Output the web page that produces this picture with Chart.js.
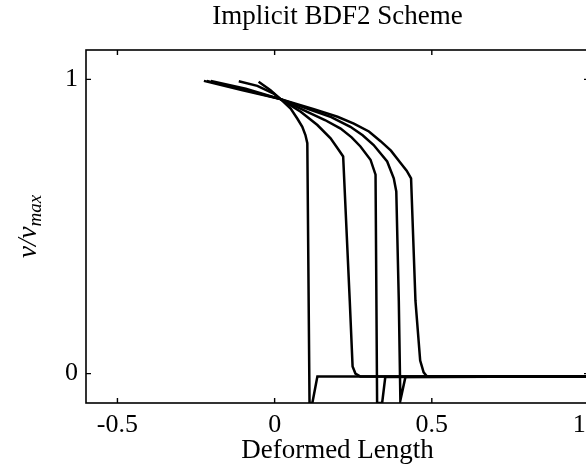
<!DOCTYPE html>
<html>
<head>
<meta charset="utf-8">
<script src="https://cdn.jsdelivr.net/npm/chart.js@4.4.1/dist/chart.umd.min.js"></script>
<style>
  html, body { margin: 0; padding: 0; background: #fff; overflow: hidden; }
  #wrap { width: 620px; height: 470px; }
</style>
</head>
<body>
<div id="wrap"><canvas id="chart" width="620" height="470"></canvas></div>
<script>
// --- Data ---
const X_TICKS = [-0.5, 0, 0.5, 1];
const Y_TICKS = [0, 1];

// five profiles, steepest first
const c1x = [-0.051, -0.013, 0.019, 0.051, 0.072, 0.088, 0.098, 0.104, 0.111, 0.120, 0.136, 1.0];
const c1y = [0.992, 0.963, 0.933, 0.901, 0.867, 0.839, 0.811, 0.783, -0.10, -0.10, -0.01, -0.01];

const c2x = [-0.114, -0.055, -0.003, 0.019, 0.083, 0.136, 0.178, 0.204, 0.218, 0.239, 0.248, 0.257, 0.273, 1.0];
const c2y = [0.994, 0.978, 0.952, 0.933, 0.890, 0.845, 0.800, 0.760, 0.738, 0.247, 0.024, 0.0, -0.01, -0.01];

const c3x = [-0.203, -0.092, 0.019, 0.104, 0.160, 0.210, 0.245, 0.273, 0.305, 0.321, 0.326, 0.342, 0.352, 1.0];
const c3y = [0.995, 0.968, 0.933, 0.890, 0.862, 0.833, 0.803, 0.772, 0.727, 0.676, -0.10, -0.10, -0.012, -0.01];

const c4x = [-0.216, -0.098, 0.019, 0.114, 0.180, 0.241, 0.280, 0.315, 0.358, 0.379, 0.387, 0.395, 0.400, 0.416, 1.0];
const c4y = [0.995, 0.966, 0.933, 0.897, 0.872, 0.839, 0.810, 0.777, 0.721, 0.664, 0.619, 0.247, -0.091, -0.012, -0.01];

const c5x = [-0.225, -0.105, 0.019, 0.125, 0.200, 0.252, 0.300, 0.337, 0.370, 0.400, 0.420, 0.434, 0.448, 0.463, 0.474, 0.485, 1.0];
const c5y = [0.995, 0.964, 0.933, 0.899, 0.873, 0.850, 0.823, 0.790, 0.758, 0.717, 0.690, 0.664, 0.247, 0.044, 0.004, -0.010, -0.01];

const SERIES = [[c1x, c1y], [c2x, c2y], [c3x, c3y], [c4x, c4y], [c5x, c5y]];

const FONT = 'Liberation Serif';

// --- Frame, inward ticks and titles ---
const framePlugin = {
  id: 'frame',
  afterDraw(chart) {
    const { ctx, chartArea: a, scales } = chart;
    ctx.save();
    ctx.strokeStyle = '#000';
    ctx.lineWidth = 1.6;
    ctx.strokeRect(a.left, a.top, a.right - a.left, a.bottom - a.top);

    // inward tick marks
    ctx.lineWidth = 1.4;
    ctx.beginPath();
    X_TICKS.forEach((v) => {
      const px = scales.x.getPixelForValue(v);
      ctx.moveTo(px, a.bottom); ctx.lineTo(px, a.bottom - 5);
      ctx.moveTo(px, a.top); ctx.lineTo(px, a.top + 5);
    });
    Y_TICKS.forEach((v) => {
      const py = scales.y.getPixelForValue(v);
      ctx.moveTo(a.left, py); ctx.lineTo(a.left + 5, py);
      ctx.moveTo(a.right, py); ctx.lineTo(a.right - 5, py);
    });
    ctx.stroke();

    const cx = (a.left + a.right) / 2;
    ctx.fillStyle = '#000';
    ctx.textAlign = 'center';
    ctx.textBaseline = 'alphabetic';

    // chart title
    ctx.font = `27px "${FONT}"`;
    ctx.fillText('Implicit BDF2 Scheme', cx, 24);

    // x axis title
    ctx.fillText('Deformed Length', cx, 458);

    // y axis title with subscript
    const cy = (a.top + a.bottom) / 2;
    ctx.translate(36, cy);
    ctx.rotate(-Math.PI / 2);
    const main = 'ν/ν';
    const sub = 'max';
    ctx.font = `italic 27px "${FONT}"`;
    const wMain = ctx.measureText(main).width;
    ctx.font = `italic 19px "${FONT}"`;
    const wSub = ctx.measureText(sub).width;
    const start = -(wMain + wSub) / 2;
    ctx.textAlign = 'left';
    ctx.font = `italic 27px "${FONT}"`;
    ctx.fillText(main, start, 0);
    ctx.font = `italic 19px "${FONT}"`;
    ctx.fillText(sub, start + wMain, 5);
    ctx.restore();
  },
};

new Chart(document.getElementById('chart').getContext('2d'), {
  type: 'line',
  data: {
    datasets: SERIES.map(([xs, ys]) => ({
      data: xs.map((x, i) => ({ x, y: ys[i] })),
      borderColor: '#000',
      borderWidth: 2.5,
      pointRadius: 0,
      tension: 0,
      fill: false,
    })),
  },
  options: {
    responsive: false,
    animation: false,
    events: [],
    layout: { padding: { top: 50, right: 31, left: 0, bottom: 0 } },
    plugins: { legend: { display: false }, tooltip: { enabled: false }, title: { display: false } },
    scales: {
      x: {
        type: 'linear',
        min: -0.6,
        max: 1.0,
        afterBuildTicks: (s) => { s.ticks = X_TICKS.map((v) => ({ value: v })); },
        afterFit: (s) => { s.height = 67; },
        grid: { display: false, drawTicks: false },
        border: { display: false },
        ticks: { color: '#000', padding: 7, maxRotation: 0, font: { family: FONT, size: 26 } },
      },
      y: {
        min: -0.1,
        max: 1.1,
        afterBuildTicks: (s) => { s.ticks = Y_TICKS.map((v) => ({ value: v })); },
        afterFit: (s) => { s.width = 86; },
        grid: { display: false, drawTicks: false },
        border: { display: false },
        ticks: { color: '#000', padding: 8, font: { family: FONT, size: 26 } },
      },
    },
  },
  plugins: [framePlugin],
});
</script>
</body>
</html>
